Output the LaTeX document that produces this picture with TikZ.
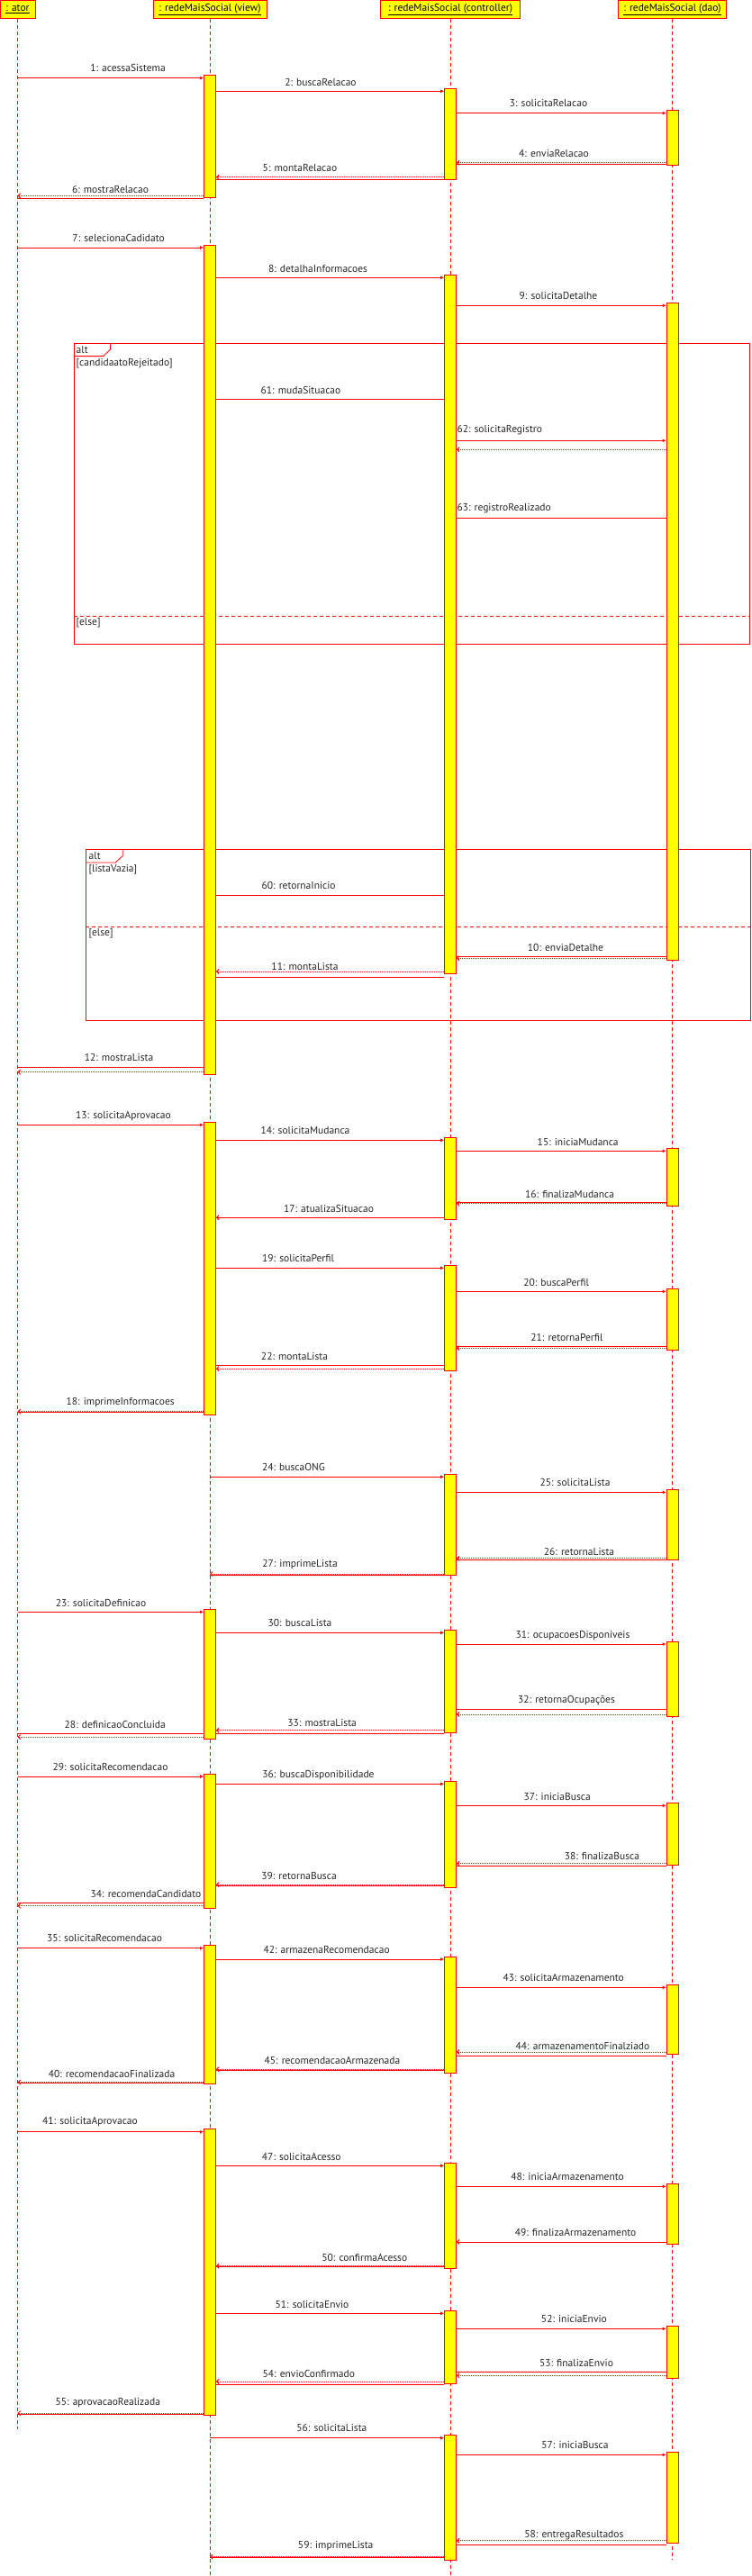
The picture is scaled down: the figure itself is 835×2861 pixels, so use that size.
\documentclass[tikz,border=0pt]{standalone}
\usepackage{fontspec}
\setmainfont{PT Sans}
\usetikzlibrary{arrows.meta,fit}
\definecolor{umlred}{RGB}{255,0,0}
\definecolor{umlyellow}{RGB}{255,255,0}

\begin{document}
\begin{tikzpicture}[
  x=1pt, y=-1pt,
  font=\fontsize{11.5}{13}\selectfont,
  obj/.style={rectangle, draw=umlred, fill=umlyellow, line width=0.8pt, minimum height=20.7pt, inner sep=1pt},
  life/.style={draw=umlred, line width=0.7pt, dash pattern=on 4pt off 3pt},
  bar/.style={rectangle, draw=umlred, fill=umlyellow, line width=0.8pt, inner sep=0pt},
  call/.style={draw=umlred, line width=1pt, -{Latex[length=4pt,width=4pt]}},
  plain/.style={draw=umlred, line width=1pt},
  reply/.style={draw=umlred, line width=1pt, dash pattern=on 1pt off 1pt, -{Straight Barb[length=2.5pt,width=5pt]}},
  ret/.style={reply, postaction={draw=umlred, solid, -, transform canvas={yshift=#1}}},
  ret/.default=-3pt,
  retsolid/.style={draw=umlred, line width=1pt, -{Straight Barb[length=2.5pt,width=5pt]}},
  lbl/.style={inner sep=0pt, text=black!85},
  frame/.style={rectangle, draw=umlred, line width=0.8pt, inner sep=0pt},
  framepen/.style={draw=umlred, line width=0.8pt},
  elsesep/.style={draw=umlred, line width=0.8pt, dash pattern=on 4pt off 3pt},
  guard/.style={anchor=west, inner sep=0pt, text=black!85}
]
  \useasboundingbox (0,0) rectangle (835,2861);

  % --- objects ---
  \node[obj, minimum width=39pt] (ator) at (19.5,10.4) {\underline{: ator}};
  \node[obj, minimum width=126pt] (view) at (233,10.4) {\underline{: redeMaisSocial (view)}};
  \node[obj, minimum width=155pt] (ctrl) at (500,10.4) {\underline{: redeMaisSocial (controller)}};
  \node[obj, minimum width=120pt] (dao) at (746.5,10.4) {\underline{: redeMaisSocial (dao)}};

  % lifelines
  \draw[life] (ator.south) -- (ator |- 0,2697.7);
  \draw[life] (view.south) -- (view |- 0,2861);
  \draw[life] (ctrl.south) -- (ctrl |- 0,2861);
  \draw[life] (dao.south) -- (dao |- 0,2843.3);

  % --- alt fragments ---
  \node[frame, fit={(82,381.3) (832.5,715.3)}] (alt1) {};
  \draw[framepen] ([yshift=-14.7pt]alt1.north west) -- ++(33,0) -- ++(8,-7.5) -- ++(0,-7.2);
  \node[guard] (alt1tag) at (84.5,389) {alt};
  \node[guard] (alt1cond) at (84.5,404) {[candidaatoRejeitado]};
  \draw[elsesep] (alt1.west |- 0,684.3) -- (alt1.east |- 0,684.3);
  \node[guard] (alt1else) at (84.5,692) {[else]};

  \node[frame, fit={(95.7,943.3) (833.5,1133.3)}] (alt2) {};
  \draw[framepen] ([yshift=-15pt]alt2.north west) -- ++(33,0) -- ++(8,-7.5) -- ++(0,-7.5);
  \node[guard] (alt2tag) at (98.5,950.5) {alt};
  \node[guard] (alt2cond) at (98.5,965.7) {[listaVazia]};
  \draw[elsesep] (alt2.west |- 0,1029.7) -- (alt2.east |- 0,1029.7);
  \node[guard] (alt2else) at (98.5,1036.7) {[else]};

  % --- activations ---
  \node[bar, fit={(226.5,83.3) (239.5,219.3)}] (v1) {};
  \node[bar, fit={(226.5,272.3) (239.5,1193.3)}] (v2) {};
  \node[bar, fit={(226.5,1246.3) (239.5,1571.3)}] (v3) {};
  \node[bar, fit={(226.5,1787.3) (239.5,1931.3)}] (v4) {};
  \node[bar, fit={(226.5,1970.3) (239.5,2119.3)}] (v5) {};
  \node[bar, fit={(226.5,2160.7) (239.5,2314.3)}] (v6) {};
  \node[bar, fit={(226.5,2364.3) (239.5,2682.3)}] (v7) {};

  \node[bar, fit={(493.5,98.3) (506.5,199.3)}] (c1) {};
  \node[bar, fit={(493.5,305.3) (506.5,1081.3)}] (c2) {};
  \node[bar, fit={(493.5,1263.3) (506.5,1354.3)}] (c3) {};
  \node[bar, fit={(493.5,1405.3) (506.5,1522.3)}] (c4) {};
  \node[bar, fit={(493.5,1637.3) (506.5,1749.3)}] (c5) {};
  \node[bar, fit={(493.5,1810.3) (506.5,1924.3)}] (c6) {};
  \node[bar, fit={(493.5,1978.3) (506.5,2096.3)}] (c7) {};
  \node[bar, fit={(493.5,2173.3) (506.5,2302.3)}] (c8) {};
  \node[bar, fit={(493.5,2402.3) (506.5,2519)}] (c9) {};
  \node[bar, fit={(493.5,2566.3) (506.5,2647.3)}] (c10) {};
  \node[bar, fit={(493.5,2704.3) (506.5,2843.3)}] (c11) {};

  \node[bar, fit={(740,122.3) (753,183.3)}] (d1) {};
  \node[bar, fit={(740,336.3) (753,1066.7)}] (d2) {};
  \node[bar, fit={(740,1275.3) (753,1339.3)}] (d3) {};
  \node[bar, fit={(740,1431.3) (753,1499.3)}] (d4) {};
  \node[bar, fit={(740,1654.3) (753,1732.3)}] (d5) {};
  \node[bar, fit={(740,1823.3) (753,1906.3)}] (d6) {};
  \node[bar, fit={(740,2002.3) (753,2071.3)}] (d7) {};
  \node[bar, fit={(740,2204.3) (753,2281.3)}] (d8) {};
  \node[bar, fit={(740,2425.3) (753,2492)}] (d9) {};
  \node[bar, fit={(740,2583.3) (753,2641.3)}] (d10) {};
  \node[bar, fit={(740,2723.3) (753,2824.3)}] (d11) {};

  % --- messages ---
  \draw[call] (ator |- 0,86.7) -- (v1.west |- 0,86.7) node[lbl] at (142,75) {1: acessaSistema};
  \draw[call] (v1.east |- 0,101.3) -- (c1.west |- 0,101.3) node[lbl] at (356,91) {2: buscaRelacao};
  \draw[call] (c1.east |- 0,125.7) -- (d1.west |- 0,125.7) node[lbl] at (609,114.3) {3: solicitaRelacao};
  \draw[ret=-2pt] (d1.west |- 0,180.7) -- (c1.east |- 0,180.7) node[lbl] at (615,170) {4: enviaRelacao};
  \draw[ret] (c1.west |- 0,196.7) -- (v1.east |- 0,196.7) node[lbl] at (333,186) {5: montaRelacao};
  \draw[ret] (v1.west |- 0,217.3) -- (ator |- 0,217.3) node[lbl] at (122.5,210) {6: mostraRelacao};

  \draw[call] (ator |- 0,275) -- (v2.west |- 0,275) node[lbl] at (131.6,264) {7: selecionaCadidato};
  \draw[call] (v2.east |- 0,308.3) -- (c2.west |- 0,308.3) node[lbl] at (353,298) {8: detalhaInformacoes};
  \draw[call] (c2.east |- 0,339.3) -- (d2.west |- 0,339.3) node[lbl] at (620,328) {9: solicitaDetalhe};
  \draw[plain] (v2.east |- 0,443.3) -- (c2.west |- 0,443.3) node[lbl] at (334,433) {61: mudaSituacao};
  \draw[call] (c2.east |- 0,489.3) -- (d2.west |- 0,489.3) node[lbl, anchor=west] at (507,477.3) {62: solicitaRegistro};
  \draw[reply] (d2.west |- 0,499.3) -- (c2.east |- 0,499.3);
  \draw[plain] (c2.east |- 0,575.3) -- (d2.west |- 0,575.3) node[lbl, anchor=west] at (507,564.3) {63: registroRealizado};
  \draw[plain] (v2.east |- 0,994.3) -- (c2.west |- 0,994.3) node[lbl] at (331.6,983.3) {60: retornaInicio};
  \draw[ret=2pt] (d2.west |- 0,1064.3) -- (c2.east |- 0,1064.3) node[lbl] at (628,1052) {10: enviaDetalhe};
  \draw[ret=-6pt] (c2.west |- 0,1079) -- (v2.east |- 0,1079) node[lbl] at (338.5,1073) {11: montaLista};
  \draw[ret=5pt] (v2.west |- 0,1190.7) -- (ator |- 0,1190.7) node[lbl] at (132,1174) {12: mostraLista};

  \draw[call] (ator |- 0,1249.3) -- (v3.west |- 0,1249.3) node[lbl] at (137,1239.3) {13: solicitaAprovacao};
  \draw[call] (v3.east |- 0,1266.3) -- (c3.west |- 0,1266.3) node[lbl] at (339,1255) {14: solicitaMudanca};
  \draw[call] (c3.east |- 0,1278.3) -- (d3.west |- 0,1278.3) node[lbl] at (641.7,1268.3) {15: iniciaMudanca};
  \draw[ret=1pt] (d3.west |- 0,1336.7) -- (c3.east |- 0,1336.7) node[lbl] at (632.6,1326) {16: finalizaMudanca};
  \draw[retsolid] (c3.west |- 0,1352.3) -- (v3.east |- 0,1352.3) node[lbl] at (365,1342.3) {17: atualizaSituacao};
  \draw[call] (v3.east |- 0,1408.3) -- (c4.west |- 0,1408.3) node[lbl] at (331,1397.3) {19: solicitaPerfil};
  \draw[call] (c4.east |- 0,1434.3) -- (d4.west |- 0,1434.3) node[lbl] at (617.6,1424.3) {20: buscaPerfil};
  \draw[ret=2pt] (d4.west |- 0,1497.3) -- (c4.east |- 0,1497.3) node[lbl] at (629.4,1485) {21: retornaPerfil};
  \draw[ret=4pt] (c4.west |- 0,1520.3) -- (v3.east |- 0,1520.3) node[lbl] at (327,1506.3) {22: montaLista};
  \draw[ret=-1pt] (v3.west |- 0,1567.7) -- (ator |- 0,1567.7) node[lbl] at (133.7,1557.3) {18: imprimeInformacoes};

  \draw[call] (view |- 0,1640.3) -- (c5.west |- 0,1640.3) node[lbl] at (326,1629.3) {24: buscaONG};
  \draw[call] (c5.east |- 0,1657.3) -- (d5.west |- 0,1657.3) node[lbl] at (638.5,1646.3) {25: solicitaLista};
  \draw[ret=-2pt] (d5.west |- 0,1730.7) -- (c5.east |- 0,1730.7) node[lbl] at (643,1723) {26: retornaLista};
  \draw[ret=-1pt] (c5.west |- 0,1748) -- (view |- 0,1748) node[lbl] at (333,1737.3) {27: imprimeLista};

  \draw[call] (ator |- 0,1790.3) -- (v4.west |- 0,1790.3) node[lbl] at (112,1780) {23: solicitaDefinicao};
  \draw[call] (v4.east |- 0,1813.3) -- (c6.west |- 0,1813.3) node[lbl] at (333,1802.3) {30: buscaLista};
  \draw[call] (c6.east |- 0,1826) -- (d6.west |- 0,1826) node[lbl] at (636,1816.3) {31: ocupacoesDisponiveis};
  \draw[ret=5.7pt] (d6.west |- 0,1904) -- (c6.east |- 0,1904) node[lbl] at (629,1888.3) {32: retornaOcupações};
  \draw[ret=-3.6pt] (c6.west |- 0,1921.7) -- (v4.east |- 0,1921.7) node[lbl] at (357.7,1913) {33: mostraLista};
  \draw[ret=3.7pt] (v4.west |- 0,1929) -- (ator |- 0,1929) node[lbl] at (127.8,1915) {28: definicaoConcluida};

  \draw[call] (ator |- 0,1973) -- (v5.west |- 0,1973) node[lbl] at (122.5,1962.3) {29: solicitaRecomendacao};
  \draw[call] (v5.east |- 0,1981.3) -- (c7.west |- 0,1981.3) node[lbl] at (353.5,1971.3) {36: buscaDisponibilidade};
  \draw[call] (c7.east |- 0,2005.3) -- (d7.west |- 0,2005.3) node[lbl] at (618.7,1995.3) {37: iniciaBusca};
  \draw[ret=-2.6pt] (d7.west |- 0,2069.7) -- (c7.east |- 0,2069.7) node[lbl] at (668.4,2061.3) {38: finalizaBusca};
  \draw[ret=-1pt] (c7.west |- 0,2093.3) -- (v5.east |- 0,2093.3) node[lbl] at (332,2083.3) {39: retornaBusca};
  \draw[ret=3.4pt] (v5.west |- 0,2116.7) -- (ator |- 0,2116.7) node[lbl] at (162,2103.3) {34: recomendaCandidato};

  \draw[call] (ator |- 0,2163.7) -- (v6.west |- 0,2163.7) node[lbl] at (116,2152.7) {35: solicitaRecomendacao};
  \draw[call] (v6.east |- 0,2176) -- (c8.west |- 0,2176) node[lbl] at (362.6,2165.7) {42: armazenaRecomendacao};
  \draw[call] (c8.east |- 0,2207.3) -- (d8.west |- 0,2207.3) node[lbl] at (625.7,2196) {43: solicitaArmazenamento};
  \draw[ret=-4.3pt] (d8.west |- 0,2279) -- (c8.east |- 0,2279) node[lbl] at (647,2272) {44: armazenamentoFinalziado};
  \draw[ret=-1pt] (c8.west |- 0,2298.3) -- (v6.east |- 0,2298.3) node[lbl] at (369,2288) {45: recomendacaoArmazenada};
  \draw[ret=-1pt] (v6.west |- 0,2312.7) -- (ator |- 0,2312.7) node[lbl] at (124,2303.3) {40: recomendacaoFinalizada};

  \draw[call] (ator |- 0,2367.7) -- (v7.west |- 0,2367.7) node[lbl] at (100,2356.3) {41: solicitaAprovacao};
  \draw[call] (v7.east |- 0,2405.3) -- (c9.west |- 0,2405.3) node[lbl] at (334.8,2395.3) {47: solicitaAcesso};
  \draw[call] (c9.east |- 0,2428.3) -- (d9.west |- 0,2428.3) node[lbl] at (630,2417) {48: iniciaArmazenamento};
  \draw[retsolid] (d9.west |- 0,2490) -- (c9.east |- 0,2490) node[lbl] at (639,2479.3) {49: finalizaArmazenamento};
  \draw[ret=-1pt] (c9.west |- 0,2516.7) -- (v7.east |- 0,2516.7) node[lbl] at (404.8,2507.3) {50: confirmaAcesso};
  \draw[call] (v7.east |- 0,2569.3) -- (c10.west |- 0,2569.3) node[lbl] at (346.5,2559.3) {51: solicitaEnvio};
  \draw[call] (c10.east |- 0,2586.3) -- (d10.west |- 0,2586.3) node[lbl] at (637.4,2575) {52: iniciaEnvio};
  \draw[ret=4pt] (d10.west |- 0,2638.3) -- (c10.east |- 0,2638.3) node[lbl] at (640,2624) {53: finalizaEnvio};
  \draw[ret=-3.3pt] (c10.west |- 0,2645) -- (v7.east |- 0,2645) node[lbl] at (342.8,2636) {54: envioConfirmado};
  \draw[ret=-1pt] (v7.west |- 0,2680) -- (ator |- 0,2680) node[lbl] at (119.8,2668.3) {55: aprovacaoRealizada};

  \draw[call] (view |- 0,2707.7) -- (c11.west |- 0,2707.7) node[lbl] at (368.4,2696.3) {56: solicitaLista};
  \draw[call] (c11.east |- 0,2726.3) -- (d11.west |- 0,2726.3) node[lbl] at (638.5,2715.3) {57: iniciaBusca};
  \draw[ret=-4.6pt] (d11.west |- 0,2821.7) -- (c11.east |- 0,2821.7) node[lbl] at (637.4,2815.3) {58: entregaResultados};
  \draw[ret=-1pt] (c11.west |- 0,2839.7) -- (view |- 0,2839.7) node[lbl] at (372.7,2827.3) {59: imprimeLista};

\end{tikzpicture}
\end{document}
